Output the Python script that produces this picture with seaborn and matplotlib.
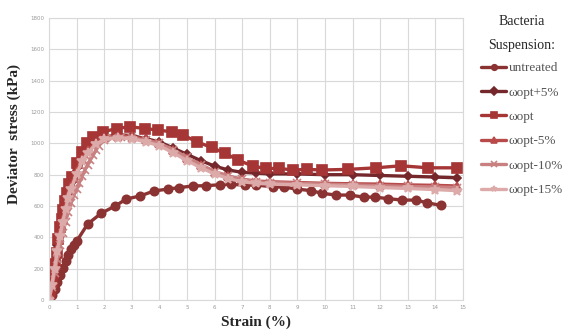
import numpy as np
import pandas as pd
import matplotlib
matplotlib.use('Agg')
import matplotlib.pyplot as plt
import seaborn as sns

# strain (%) and deviator stress (kPa)
untreated_x = [0, 0.1, 0.2, 0.3, 0.4, 0.5, 0.6, 0.7, 0.8, 0.9, 1.0, 1.4, 1.9, 2.4, 2.8, 3.3,
               3.8, 4.3, 4.7, 5.2, 5.7, 6.2, 6.6, 7.1, 7.5, 8.1, 8.5, 9.0, 9.5, 9.9, 10.4,
               10.9, 11.4, 11.8, 12.3, 12.8, 13.3, 13.7, 14.2]
untreated_y = [0, 30, 70, 115, 160, 205, 250, 290, 325, 350, 375, 485, 555, 600, 645, 664,
               696, 708, 717, 728, 730, 736, 738, 734, 734, 723, 721, 708, 698, 681, 670,
               670, 657, 657, 647, 638, 638, 621, 604]

opt_x = [0, 0.05, 0.1, 0.15, 0.2, 0.28, 0.34, 0.4, 0.46, 0.52, 0.58, 0.64, 0.72, 0.82, 1.0,
         1.18, 1.37, 1.6, 1.97, 2.45, 2.93, 3.48, 3.95, 4.44, 4.87, 5.35, 5.9, 6.38, 6.86,
         7.38, 7.86, 8.34, 8.85, 9.36, 9.88, 10.84, 11.85, 12.75, 13.74, 14.77]
opt_y = [0, 60, 120, 172, 230, 298, 390, 468, 520, 574, 630, 682, 740, 787, 874,
         947, 1000, 1043, 1074, 1095, 1106, 1095, 1085, 1074, 1053, 1010, 974, 936, 893,
         855, 840, 840, 830, 834, 830, 834, 844, 857, 844, 844]

plus5_x = [0, 0.1, 0.2, 0.3, 0.4, 0.5, 0.6, 0.7, 0.8, 1.0, 1.2, 1.4, 1.7, 2.0, 2.5, 3.0,
           3.5, 4.0, 4.5, 5.0, 5.5, 6.0, 6.5, 7.0, 7.5, 8.0, 9.0, 10.0, 11.0, 12.0, 13.0,
           14.0, 14.8]
plus5_y = [0, 110, 230, 350, 450, 540, 620, 690, 750, 840, 910, 960, 1010, 1040, 1055, 1050,
           1030, 1010, 970, 930, 890, 855, 830, 815, 810, 805, 805, 800, 800, 795, 790,
           785, 780]

minus5_x = [0, 0.1, 0.2, 0.3, 0.4, 0.5, 0.6, 0.7, 0.8, 1.0, 1.2, 1.4, 1.7, 2.0, 2.5, 3.0,
            3.5, 4.0, 4.5, 5.0, 5.5, 6.0, 6.5, 7.0, 7.5, 8.0, 9.0, 10.0, 11.0, 12.0, 13.0,
            14.0, 14.8]
minus5_y = [0, 100, 215, 330, 430, 520, 600, 670, 730, 825, 900, 955, 1005, 1035, 1050, 1045,
            1025, 1000, 955, 905, 860, 820, 790, 770, 760, 755, 750, 745, 742, 740, 735,
            732, 728]

minus10_x = [0, 0.1, 0.2, 0.3, 0.4, 0.5, 0.6, 0.7, 0.8, 0.9, 1.0, 1.1, 1.2, 1.3, 1.4, 1.5,
             1.6, 1.7, 1.8, 2.0, 2.3, 2.6, 3.0, 3.5, 4.0, 4.5, 5.0, 5.5, 6.0, 6.5, 7.0, 7.5,
             8.0, 9.0, 10.0, 11.0, 12.0, 13.0, 14.0, 14.8]
minus10_y = [0, 80, 170, 260, 350, 430, 500, 560, 620, 670, 710, 750, 790, 830, 865, 895,
             925, 955, 985, 1020, 1035, 1040, 1035, 1020, 1000, 960, 910, 865, 820, 790, 770, 755,
             750, 745, 740, 735, 730, 725, 722, 718]

minus15_x = [0, 0.1, 0.2, 0.3, 0.4, 0.5, 0.6, 0.7, 0.8, 1.0, 1.2, 1.4, 1.7, 2.0, 2.5, 3.0,
             3.5, 4.0, 4.5, 5.0, 5.5, 6.0, 6.5, 7.0, 7.5, 8.0, 9.0, 10.0, 11.0, 12.0, 13.0,
             14.0, 14.8]
minus15_y = [0, 95, 200, 310, 410, 500, 580, 650, 710, 805, 885, 940, 995, 1025, 1035, 1030,
             1010, 985, 940, 890, 845, 805, 775, 755, 745, 740, 735, 730, 725, 718, 712,
             705, 698]

series = [
    ('untreated', untreated_x, untreated_y, 'o', '#8B3232', 6),
    ('ωopt+5%', plus5_x, plus5_y, 'D', '#74282B', 4),
    ('ωopt', opt_x, opt_y, 's', '#A63535', 7),
    ('ωopt-5%', minus5_x, minus5_y, '^', '#B84A4A', 6),
    ('ωopt-10%', minus10_x, minus10_y, 'x', '#C98080', 6),
    ('ωopt-15%', minus15_x, minus15_y, '*', '#DDAAAA', 7),
]

sns.set_style('white')
plt.rcParams['font.family'] = ['DejaVu Sans']

fig = plt.figure(figsize=(5.68, 3.35), dpi=100)
ax = fig.add_axes([0.0863, 0.1045, 0.7287, 0.8415])

for name, xs, ys, mk, col, ms in series:
    df = pd.DataFrame({'strain': xs, 'stress': ys})
    sns.lineplot(data=df, x='strain', y='stress', ax=ax, sort=False, color=col,
                 marker=mk, markersize=ms, linewidth=2.4, markeredgecolor=col,
                 markeredgewidth=1.2, label=name)

ax.set_xlim(0, 15)
ax.set_ylim(0, 1800)
ax.set_xticks(np.arange(0, 16, 1))
ax.set_yticks(np.arange(0, 1801, 200))
ax.grid(True, color='#d9d9d9', linewidth=0.8)
ax.tick_params(axis='both', labelsize=4, colors='#999999', length=0)
for s in ax.spines.values():
    s.set_color('#d9d9d9')
    s.set_linewidth(0.8)

ax.set_xlabel('Strain (%)', family='Liberation Serif', fontweight='bold', fontsize=11, labelpad=4)
ax.set_ylabel('Deviator  stress (kPa)', family='Liberation Serif', fontweight='bold',
              fontsize=11)
ax.yaxis.set_label_coords(-0.068, 0.59)

handles, labels = ax.get_legend_handles_labels()
ax.get_legend().remove()
leg = fig.legend(handles, labels, loc='upper left', bbox_to_anchor=(0.838, 0.97),
                 frameon=False, title='Bacteria\nSuspension:',
                 prop={'family': 'Liberation Serif', 'size': 9.5},
                 handlelength=1.9, handletextpad=0.15, labelspacing=0.92, borderaxespad=0)
leg.get_title().set_family('Liberation Serif')
leg.get_title().set_fontsize(10)
leg.get_title().set_linespacing(2.1)
leg.get_title().set_multialignment('center')
leg._legend_box.sep = 7
for h in leg.legend_handles:
    h.set_markersize(4)
for t in leg.get_texts():
    t.set_color('#555555')

fig.savefig('out.png', dpi=100)
